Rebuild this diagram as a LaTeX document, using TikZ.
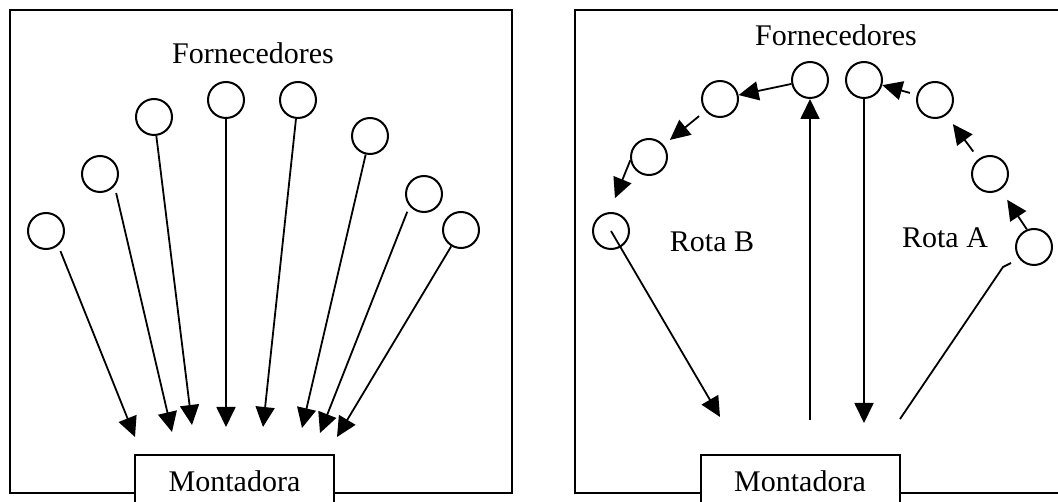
\documentclass[tikz,border=0pt]{standalone}
\usepackage{fontspec}
\setmainfont{Liberation Serif}
\usetikzlibrary{arrows.meta}
\begin{document}
\begin{tikzpicture}[x=1pt,y=-1pt,
  sup/.style={draw,circle,line width=2pt,minimum size=36pt,inner sep=0pt},
  lbl/.style={font=\fontsize{30}{36}\selectfont,inner sep=0pt},
  frame/.style={draw,line width=2pt},
  mbox/.style={draw,line width=2pt,fill=white,minimum width=199pt,minimum height=52pt,anchor=north,inner sep=0pt,font=\fontsize{30}{36}\selectfont},
  arr/.style={line width=1.8pt,-{Triangle[length=20pt,width=19pt]}},
  ln/.style={line width=1.8pt}]
\useasboundingbox (0,0) rectangle (1058,502);
\clip (0,0) rectangle (1058,502);
% ---------- left panel ----------
\draw[frame] (10,10) rectangle (512,493);
\node[mbox] (m1) at (234.5,454) {Montadora};
\node[lbl] (f1) at (253,53) {Fornecedores};
\node[sup] (c1) at (46,231) {};
\node[sup] (c2) at (100,174) {};
\node[sup] (c3) at (154,117) {};
\node[sup] (c4) at (226,100) {};
\node[sup] (c5) at (298,100) {};
\node[sup] (c6) at (370,136) {};
\node[sup] (c7) at (424,194) {};
\node[sup] (c8) at (461,230) {};
\coordinate (t1) at (135,437);
\coordinate (t2) at (172,432);
\coordinate (t3) at (192,425);
\coordinate (t4) at (226,427);
\coordinate (t5) at (263,427);
\coordinate (t6) at (302,428);
\coordinate (t7) at (320,433);
\coordinate (t8) at (337,437);
\draw[arr,shorten <=6pt] (c1.-50) -- (t1);
\draw[arr,shorten <=7pt] (c2.-40) -- (t2);
\draw[arr] (c3) -- (t3);
\draw[arr] (c4) -- (t4);
\draw[arr] (c5) -- (t5);
\draw[arr] (c6) -- (t6);
\draw[arr,shorten <=6pt] (c7.-140) -- (t7);
\draw[arr] (c8) -- (t8);
% ---------- right panel ----------
\draw[frame] (575,10) rectangle (1075,493);
\node[mbox] (m2) at (800,454) {Montadora};
\node[lbl] (f2) at (836,35) {Fornecedores};
\node[lbl] (rb) at (712,242) {Rota B};
\node[lbl] (ra) at (945,238) {Rota A};
\node[sup] (R1) at (810,80) {};
\node[sup] (R2) at (864,80) {};
\node[sup] (L1) at (720,99) {};
\node[sup] (L2) at (649,157) {};
\node[sup] (L3) at (611,231) {};
\node[sup] (A3) at (935,100) {};
\node[sup] (A2) at (990,174) {};
\node[sup] (A1) at (1034,247) {};
\coordinate (tB) at (720,417);
\coordinate (u1) at (810,420);
\coordinate (d1) at (864,423);
\coordinate (a0) at (900,419);
\coordinate (h1) at (1003,267);
\coordinate (h2) at (1011,263);
\draw[arr] (R1) -- (L1);
\draw[arr,shorten <=8pt,shorten >=8pt] (L1) -- (L2);
\draw[arr,shorten >=15pt] (L2.190) -- (L3.95);
\draw[arr] (L3.center) -- (tB);
\draw[arr] (u1) -- (R1);
\draw[arr] (R2) -- (d1);
\draw[ln] (a0) -- (h1) -- (h2);
\draw[arr,shorten >=12pt] (A1.112) -- (A2);
\draw[arr,shorten <=9pt,shorten >=11pt] (A2) -- (A3);
\draw[arr,shorten <=7pt] (A3) -- (R2);
\end{tikzpicture}
\end{document}
